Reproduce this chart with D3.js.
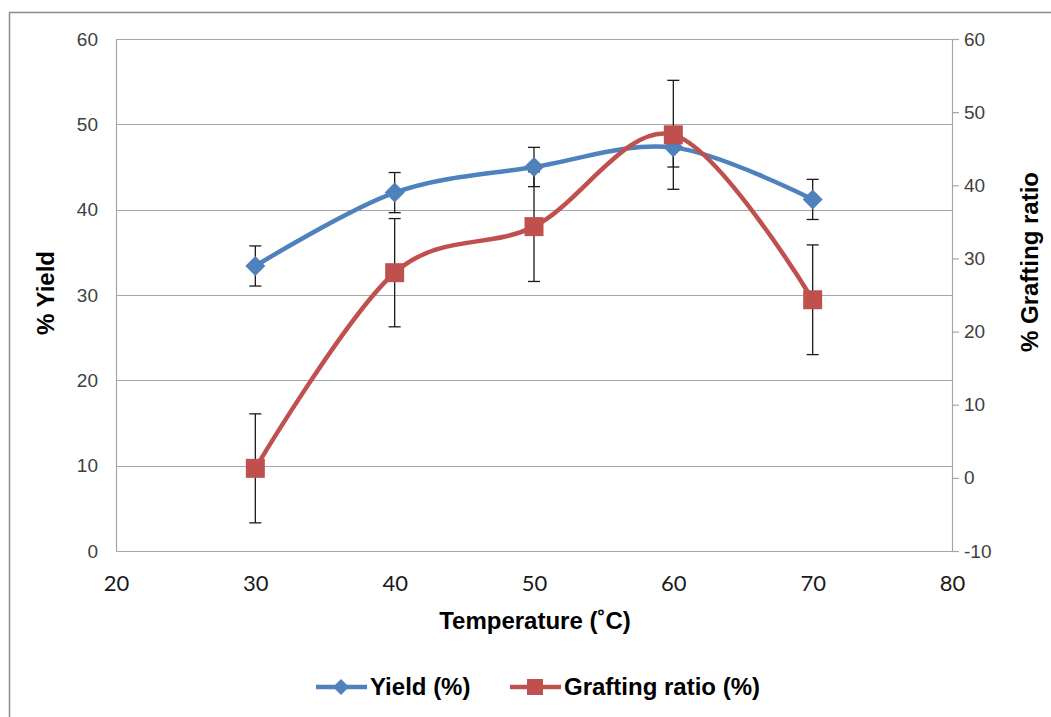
<!DOCTYPE html>
<html>
<head>
<meta charset="utf-8">
<script src="https://cdn.jsdelivr.net/npm/d3@7/dist/d3.min.js"></script>
<style>
  body { margin: 0; background: #fff; }
  svg { display: block; }
</style>
</head>
<body>
<svg id="chart" width="1051" height="717"></svg>
<script>
// values
var temps = [30, 40, 50, 60, 70];
var yieldVals = [33.4, 42.0, 45.0, 47.3, 41.2];
var yieldErr = [2.35, 2.35, 2.3, 2.3, 2.35];
var graftVals = [1.3, 28.05, 34.35, 46.9, 24.35];
var graftErr = [7.45, 7.4, 7.5, 7.45, 7.5];

var xTicks = [20, 30, 40, 50, 60, 70, 80];
var yLeftTicks = [0, 10, 20, 30, 40, 50, 60];
var yRightTicks = [-10, 0, 10, 20, 30, 40, 50, 60];

(function () {

  var blue = "#4F81BD";
  var red = "#C0504D";
  var gridColor = "#a6a6a6";
  var arial = "'Liberation Sans', Arial, sans-serif";

  var svg = d3.select("#chart");

  // outer chart frame (runs off right/bottom edge)
  svg.append("rect")
    .attr("x", 9.5).attr("y", 12.5)
    .attr("width", 1100).attr("height", 800)
    .attr("fill", "none")
    .attr("stroke", "#8c8c8c")
    .attr("stroke-width", 1.5);

  var plotLeft = 116, plotRight = 952, plotTop = 39, plotBottom = 551;

  var x = d3.scaleLinear().domain([20, 80]).range([plotLeft, plotRight]);
  var yL = d3.scaleLinear().domain([0, 60]).range([plotBottom, plotTop]);
  var yR = d3.scaleLinear().domain([-10, 60]).range([plotBottom, plotTop]);

  // gridlines
  svg.append("g")
    .selectAll("line")
    .data(yLeftTicks)
    .enter()
      .append("line")
      .attr("x1", plotLeft).attr("x2", plotRight)
      .attr("y1", function (d) { return Math.round(yL(d)) + 0.5; })
      .attr("y2", function (d) { return Math.round(yL(d)) + 0.5; })
      .attr("stroke", gridColor)
      .attr("stroke-width", 1.2);

  // left axis
  var axisL = svg.append("g")
    .attr("transform", "translate(" + plotLeft + ",0)")
    .call(d3.axisLeft(yL).tickValues(yLeftTicks).tickSize(0).tickPadding(18));
  axisL.select(".domain").attr("stroke", gridColor).attr("stroke-width", 1.2);
  axisL.selectAll("text")
    .attr("font-family", arial)
    .attr("font-size", 19).attr("fill", "#404040");

  // right axis
  var axisR = svg.append("g")
    .attr("transform", "translate(" + plotRight + ",0)")
    .call(d3.axisRight(yR).tickValues(yRightTicks).tickSize(7).tickPadding(5));
  axisR.select(".domain").attr("stroke", gridColor).attr("stroke-width", 1.2);
  axisR.selectAll(".tick line").attr("stroke", gridColor).attr("stroke-width", 1.2);
  axisR.selectAll("text")
    .attr("font-family", arial)
    .attr("font-size", 19).attr("fill", "#404040")
    .text(function (d) { return d < 0 ? "-" + Math.abs(d) : d; });

  // bottom axis
  var axisB = svg.append("g")
    .attr("transform", "translate(0," + plotBottom + ")")
    .call(d3.axisBottom(x).tickValues(xTicks).tickSize(0).tickPadding(24));
  axisB.select(".domain").attr("stroke", gridColor).attr("stroke-width", 1.2);
  axisB.selectAll("text")
    .attr("font-family", "Lato, 'Open Sans', sans-serif")
    .attr("font-size", 22).attr("fill", "#1a1a1a");

  // axis titles
  svg.append("text")
    .attr("transform", "translate(54,293) rotate(-90)")
    .attr("text-anchor", "middle")
    .attr("font-family", arial)
    .attr("font-weight", "bold").attr("font-size", 24)
    .text("% Yield");

  svg.append("text")
    .attr("transform", "translate(1038,262) rotate(-90)")
    .attr("text-anchor", "middle")
    .attr("font-family", arial)
    .attr("font-weight", "bold").attr("font-size", 24)
    .text("% Grafting ratio");

  svg.append("text")
    .attr("x", 535).attr("y", 629)
    .attr("text-anchor", "middle")
    .attr("font-family", arial)
    .attr("font-weight", "bold").attr("font-size", 24)
    .text("Temperature (˚C)");

  var yieldData = temps.map(function (t, i) { return { t: t, v: yieldVals[i], e: yieldErr[i] }; });
  var graftData = temps.map(function (t, i) { return { t: t, v: graftVals[i], e: graftErr[i] }; });

  function errorBars(data, scale) {
    var g = svg.append("g").attr("stroke", "#1a1a1a").attr("stroke-width", 1.3);
    data.forEach(function (d) {
      var cx = x(d.t), y1 = scale(d.v + d.e), y2 = scale(d.v - d.e);
      g.append("line").attr("x1", cx).attr("x2", cx).attr("y1", y1).attr("y2", y2);
      g.append("line").attr("x1", cx - 6).attr("x2", cx + 6).attr("y1", y1).attr("y2", y1);
      g.append("line").attr("x1", cx - 6).attr("x2", cx + 6).attr("y1", y2).attr("y2", y2);
    });
  }

  errorBars(yieldData, yL);
  errorBars(graftData, yR);

  var lineL = d3.line()
    .x(function (d) { return x(d.t); })
    .y(function (d) { return yL(d.v); })
    .curve(d3.curveCardinal.tension(0));
  var lineR = d3.line()
    .x(function (d) { return x(d.t); })
    .y(function (d) { return yR(d.v); })
    .curve(d3.curveCardinal.tension(0));

  svg.append("path").datum(yieldData)
    .attr("d", lineL).attr("fill", "none")
    .attr("stroke", blue).attr("stroke-width", 4.5)
    .attr("stroke-linejoin", "round");

  svg.selectAll(".diamond")
    .data(yieldData)
    .enter()
      .append("path")
      .attr("class", "diamond")
      .attr("d", "M0,-10L10,0L0,10L-10,0Z")
      .attr("transform", function (d) { return "translate(" + x(d.t) + "," + yL(d.v) + ")"; })
      .attr("fill", blue);

  svg.append("path").datum(graftData)
    .attr("d", lineR).attr("fill", "none")
    .attr("stroke", red).attr("stroke-width", 4.5)
    .attr("stroke-linejoin", "round");

  svg.selectAll(".square")
    .data(graftData)
    .enter()
      .append("rect")
      .attr("class", "square")
      .attr("x", function (d) { return x(d.t) - 9.5; })
      .attr("y", function (d) { return yR(d.v) - 9.5; })
      .attr("width", 19).attr("height", 19)
      .attr("fill", red);

  // legend
  var legend = svg.append("g");
  legend.append("line")
    .attr("x1", 316).attr("x2", 367).attr("y1", 687).attr("y2", 687)
    .attr("stroke", blue).attr("stroke-width", 4.5);
  legend.append("path")
    .attr("d", "M0,-8L8,0L0,8L-8,0Z")
    .attr("transform", "translate(341,687)")
    .attr("fill", blue);
  legend.append("text")
    .attr("x", 370).attr("y", 695)
    .attr("font-family", arial)
    .attr("font-weight", "bold").attr("font-size", 24)
    .text("Yield (%)");

  legend.append("line")
    .attr("x1", 510).attr("x2", 561).attr("y1", 687).attr("y2", 687)
    .attr("stroke", red).attr("stroke-width", 4.5);
  legend.append("rect")
    .attr("x", 527).attr("y", 679).attr("width", 16).attr("height", 16)
    .attr("fill", red);
  legend.append("text")
    .attr("x", 564).attr("y", 695)
    .attr("font-family", arial)
    .attr("font-weight", "bold").attr("font-size", 24)
    .text("Grafting ratio (%)");

})();
</script>
</body>
</html>
